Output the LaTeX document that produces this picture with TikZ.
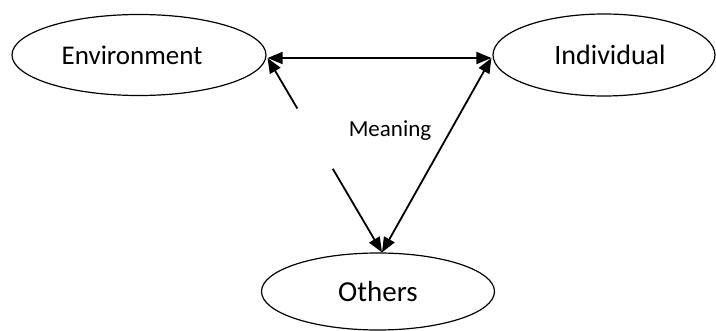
\documentclass[tikz,border=0pt]{standalone}
\usepackage{fontspec}
\setmainfont{Carlito}
\usetikzlibrary{shapes.geometric,arrows.meta,calc}
\begin{document}
\begin{tikzpicture}[x=1pt,y=-1pt,
  oval/.style={draw,ellipse,line width=1.2pt,inner sep=0pt},
  tip/.tip={Triangle[length=15pt,width=12pt]},
  conn/.style={line width=1.8pt,-tip},
  dconn/.style={line width=1.8pt,tip-tip}]
\useasboundingbox (0,0) rectangle (716,331);
\node[oval,minimum width=254pt,minimum height=81pt,font=\fontsize{27}{32}\selectfont] (env) at (139,55) {Environment\kern14pt};
\node[oval,minimum width=222pt,minimum height=82pt,font=\fontsize{28}{33}\selectfont] (ind) at (604,55) {\kern12pt Individual};
\node[oval,minimum width=233pt,minimum height=77pt,font=\fontsize{29}{34}\selectfont] (oth) at (378,291.5) {Others};
\node[anchor=base,font=\fontsize{23}{27}\selectfont] (mean) at (390,137) {Meaning};
\coordinate (e) at ($(env.east)+(1,3)$);
\coordinate (i) at ($(ind.west)+(-1,3)$);
\coordinate (o) at ($(oth.north)+(4,0)$);
\coordinate (g1) at ($(e)!0.26!(o)$);
\coordinate (g2) at ($(e)!0.57!(o)$);
\draw[dconn] (e) -- (i);
\draw[conn] (g1) -- (e);
\draw[conn] (g2) -- (o);
\draw[dconn] (i) -- (o);
\end{tikzpicture}
\end{document}
